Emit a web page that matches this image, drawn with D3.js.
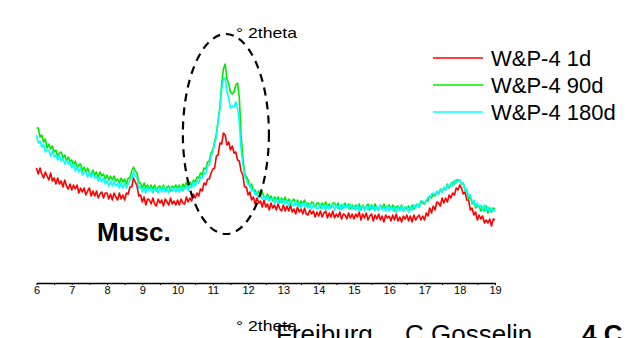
<!DOCTYPE html>
<html>
<head>
<meta charset="utf-8">
<script src="https://cdn.jsdelivr.net/npm/d3@7"></script>
<style>
  body { margin: 0; background: #fff; overflow: hidden; }
  svg { display: block; font-family: Arial, "Liberation Sans", sans-serif; }
  .axis text { font-size: 11px; fill: #000; }
  .axis path, .axis line { stroke: #000; }
</style>
</head>
<body>
<div id="chart"></div>
<script>
// scan grid of the diffractograms (degrees 2theta)
const twoThetaStart = 6;
const twoThetaStep = 0.05;

const xTicks = [6, 7, 8, 9, 10, 11, 12, 13, 14, 15, 16, 17, 18, 19];
const xMinorTicks = [6.5, 7.5, 8.5, 9.5, 10.5, 11.5, 12.5, 13.5, 14.5, 15.5, 16.5, 17.5, 18.5];

const seriesNames = ['W&P-4 1d', 'W&P-4 90d', 'W&P-4 180d'];
const seriesColors = ['#ff0000', '#00e800', '#00ffff'];

// intensities (arbitrary units), one row per degree
const counts1d = [
  115,109,115,109,105,111,107,103,110,102,105,99,105,99,102,96,103,97,94,99,
  93,98,94,98,90,95,91,95,88,92,95,87,92,87,92,85,89,91,85,90,
  90,84,89,83,90,86,83,90,84,88,83,90,89,96,96,105,101,97,87,88,
  81,86,78,84,83,79,85,79,77,84,80,83,77,84,81,78,85,79,82,78,
  83,78,84,80,79,86,81,85,82,89,85,90,87,94,92,100,98,104,104,110,
  114,115,127,128,140,139,150,148,138,141,133,137,130,131,123,122,112,108,96,96,
  88,91,83,86,79,85,80,82,76,83,76,79,73,80,75,78,73,79,74,72,
  78,72,77,72,78,71,74,69,76,71,74,69,75,69,68,73,69,72,66,71,
  67,72,66,70,72,65,70,66,72,65,69,66,71,64,69,68,64,70,65,69,
  64,69,66,71,63,69,65,70,63,67,69,62,68,64,69,63,67,61,68,65,
  67,62,68,63,69,62,66,61,67,64,68,62,67,61,68,63,66,68,63,67,
  63,70,67,75,70,77,73,81,80,77,85,80,85,81,88,85,90,88,95,93,
  98,95,89,91,83,83,73,75,68,71,63,68,64,67,60,63,60,64,57,64,
  63
];

const counts90d = [
  155,155,146,148,141,144,135,139,134,137,131,133,127,130,131,125,128,122,126,121,
  123,118,122,115,118,119,112,116,111,115,110,108,113,108,111,106,111,107,109,104,
  108,103,107,103,107,102,104,100,105,101,104,99,105,105,112,116,112,110,100,100,
  95,100,95,98,93,98,94,98,92,96,97,93,98,92,96,97,92,97,95,98,
  94,98,93,99,96,101,96,101,97,103,101,106,105,110,108,115,114,121,122,130,
  133,141,149,163,176,199,214,219,204,199,191,189,191,198,200,186,148,126,110,106,
  103,96,99,92,93,88,92,87,91,86,85,89,84,87,82,86,83,86,80,85,
  81,86,80,84,79,82,84,79,83,77,82,79,83,77,80,76,81,80,76,80,
  80,75,80,77,81,76,79,75,80,80,76,80,74,78,75,80,76,79,74,78,
  74,78,75,79,73,78,74,77,79,73,78,74,79,75,73,78,74,79,74,77,
  78,74,78,72,76,77,73,78,72,76,74,77,73,78,74,77,79,76,82,80,
  79,83,82,87,85,89,87,91,89,94,91,95,93,99,95,99,101,99,103,103,
  103,99,100,93,93,84,86,79,82,75,77,77,72,76,72,77,70,75,71,75,
  74
];

const counts180d = [
  148,140,142,136,139,131,133,133,127,132,126,128,123,128,122,125,119,123,119,121,
  115,119,112,116,111,115,108,111,111,106,110,106,110,105,107,102,106,101,105,99,
  102,97,102,97,102,97,100,95,100,95,100,95,99,103,104,111,107,105,95,96,
  91,95,90,96,92,95,90,95,94,90,95,91,96,91,94,90,96,92,95,91,
  95,91,96,92,95,97,92,98,95,101,97,102,100,106,105,110,109,118,118,127,
  131,139,147,162,174,193,204,205,191,185,175,177,176,181,175,161,134,119,107,103,
  98,99,92,94,88,91,85,89,84,87,83,87,82,84,85,79,84,80,84,80,
  83,79,82,77,83,78,77,82,77,80,75,80,77,80,75,79,74,78,78,74,
  75,79,74,78,73,78,74,77,79,73,78,74,78,73,79,75,78,74,79,74,
  77,73,78,72,76,77,72,77,73,78,74,77,72,77,73,78,73,76,72,77,
  72,76,73,77,71,76,72,77,72,75,76,71,76,73,78,75,79,76,82,82,
  80,82,86,85,89,90,88,92,89,93,91,96,93,98,96,100,97,103,100,103,
  103,99,100,93,94,87,88,80,83,77,80,76,78,73,78,72,76,71,75,72,
  73
];

const seriesData = [counts1d, counts90d, counts180d];

const W = 637, H = 338;
const svg = d3.select('#chart').append('svg')
  .attr('width', W)
  .attr('height', H);

const x = d3.scaleLinear().domain([6, 19]).range([36.5, 495]);
const y = d3.scaleLinear().domain([0, 250]).range([283, 33]);

// traces
const line = d3.line()
  .x((d, i) => x(twoThetaStart + i * twoThetaStep))
  .y(d => y(d));

svg.selectAll('path.trace')
  .data(seriesData)
  .enter()
  .append('path')
  .attr('class', 'trace')
  .attr('d', d => line(d))
  .attr('fill', 'none')
  .attr('stroke', (d, i) => seriesColors[i])
  .attr('stroke-width', 1.6)
  .attr('stroke-linejoin', 'round');

// x axis with half-degree minor ticks
svg.append('g')
  .attr('class', 'axis')
  .attr('transform', `translate(0, ${y(0)})`)
  .call(d3.axisBottom(x).tickValues(xMinorTicks).tickSize(2).tickFormat(''))
  .select('.domain').remove();

const xAxis = svg.append('g')
  .attr('class', 'axis')
  .attr('transform', `translate(0, ${y(0)})`)
  .call(d3.axisBottom(x)
    .tickValues(xTicks)
    .tickSize(2)
    .tickSizeOuter(0)
    .tickPadding(1)
    .tickFormat(d3.format('d')));
xAxis.select('.domain').attr('stroke-width', 1.3);

// dashed ellipse around the muscovite reflection
svg.append('ellipse')
  .attr('cx', x(11.37))
  .attr('cy', y(149))
  .attr('rx', x(11.37 + 1.22) - x(11.37))
  .attr('ry', y(49) - y(149))
  .attr('fill', 'none')
  .attr('stroke', '#000')
  .attr('stroke-width', 2.2)
  .attr('stroke-dasharray', '8,6');

svg.append('text')
  .attr('x', 236).attr('y', 38)
  .attr('textLength', 61)
  .attr('lengthAdjust', 'spacingAndGlyphs')
  .style('font-size', '15px')
  .text('° 2theta');

svg.append('text')
  .attr('x', 97).attr('y', 241)
  .style('font-size', '26px')
  .style('font-weight', 'bold')
  .text('Musc.');

// legend
const legend = svg.append('g')
  .attr('transform', 'translate(433, 58)');

const legendItem = legend.selectAll('g')
  .data(seriesNames)
  .enter()
  .append('g')
  .attr('transform', (d, i) => `translate(0, ${i * 27})`);

legendItem.append('line')
  .attr('x1', 0).attr('x2', 50)
  .attr('y1', 0).attr('y2', 0)
  .attr('stroke', (d, i) => seriesColors[i])
  .attr('stroke-width', 1.6);

legendItem.append('text')
  .attr('x', 58)
  .attr('y', 8)
  .style('font-size', '22px')
  .text(d => d);

// footer of the slide, clipped by the page edge
svg.append('text')
  .attr('x', 276).attr('y', 343)
  .style('font-size', '26px')
  .text('Freiburg');

svg.append('text')
  .attr('x', 405).attr('y', 343)
  .style('font-size', '26px')
  .text('C.Gosselin');

svg.append('text')
  .attr('x', 582).attr('y', 343)
  .style('font-size', '26px')
  .style('font-weight', 'bold')
  .text('4 C');

svg.append('text')
  .attr('x', 236).attr('y', 331)
  .attr('textLength', 61)
  .attr('lengthAdjust', 'spacingAndGlyphs')
  .style('font-size', '15px')
  .text('° 2theta');
</script>
</body>
</html>
